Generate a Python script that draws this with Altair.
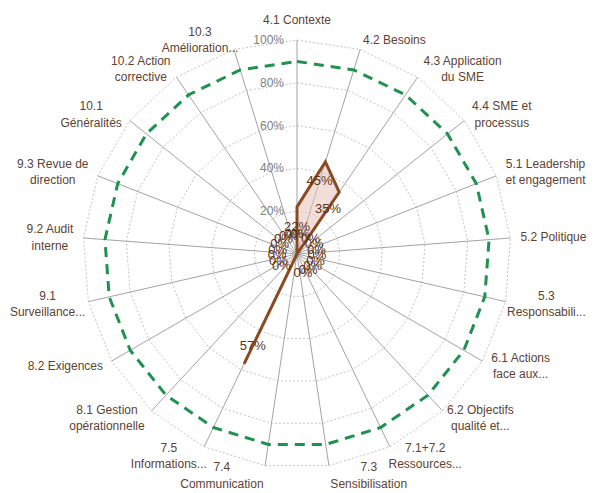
import numpy as np
import pandas as pd
import altair as alt

# ---------------- data ----------------
categories = [
    "4.1 Contexte", "4.2 Besoins", "4.3 Application\ndu SME", "4.4 SME et\nprocessus",
    "5.1 Leadership\net engagement", "5.2 Politique", "5.3\nResponsabili...",
    "6.1 Actions\nface aux...", "6.2 Objectifs\nqualité et...", "7.1+7.2\nRessources...",
    "7.3\nSensibilisation", "7.4\nCommunication", "7.5\nInformations...",
    "8.1 Gestion\nopérationnelle", "8.2 Exigences", "9.1\nSurveillance...",
    "9.2 Audit\ninterne", "9.3 Revue de\ndirection", "10.1\nGénéralités",
    "10.2 Action\ncorrective", "10.3\nAmélioration...",
]
values = [22, 45, 35, 0, 0, 0, 0, 0, 0, 0, 0, 0, 57, 0, 0, 0, 0, 0, 0, 0, 0]
target = [90] * 21
ring_levels = [20, 40, 60, 80, 100]
tick_labels = ["20%", "40%", "60%", "80%", "100%"]

# ---------------- geometry helpers ----------------
W, H = 596, 493
CX, CY = 297, 254
PX_PER_UNIT = 2.14  # pixels per percentage point
LINE_H = 16.5
n = len(categories)
ang = np.arange(n) * 2 * np.pi / n
S, C = np.sin(ang), np.cos(ang)

x_dom = [-CX / PX_PER_UNIT, (W - CX) / PX_PER_UNIT]
y_dom = [-(H - CY) / PX_PER_UNIT, CY / PX_PER_UNIT]

AW = {'.': 278, ' ': 278, '+': 584, 'a': 556, 'b': 556, 'c': 500, 'd': 556, 'e': 556,
      'é': 556, 'f': 278, 'g': 556, 'h': 556, 'i': 222, 'j': 222, 'k': 500, 'l': 222,
      'm': 833, 'n': 556, 'o': 556, 'p': 556, 'q': 556, 'r': 333, 's': 500, 't': 278,
      'u': 556, 'v': 500, 'w': 722, 'x': 500, 'y': 500, 'z': 500, 'A': 667, 'B': 667,
      'C': 722, 'E': 667, 'G': 778, 'I': 278, 'L': 556, 'M': 833, 'P': 667, 'R': 722,
      'S': 667}


def text_w(s, size=12):
    return sum(AW.get(ch, 556) for ch in s) * size / 1000


xs = alt.X("x:Q", axis=None, scale=alt.Scale(domain=x_dom, nice=False, zero=False))
ys = alt.Y("y:Q", axis=None, scale=alt.Scale(domain=y_dom, nice=False, zero=False))

# rings (dotted polygons)
ring_df = pd.DataFrame([
    {"lvl": L, "i": i, "x": L * S[i], "y": L * C[i]} for L in ring_levels for i in range(n)
])
rings = alt.Chart(ring_df).mark_line(
    interpolate="linear-closed", color="#c4c4c4", strokeWidth=1, strokeDash=[2, 2]
).encode(x=xs, y=ys, detail="lvl:N", order="i:Q")

# spokes
spoke_df = pd.DataFrame({"x": 0 * S, "y": 0 * C, "x2": 100 * S, "y2": 100 * C})
spokes = alt.Chart(spoke_df).mark_rule(color="#a3a3a3", strokeWidth=1).encode(
    x=xs, y=ys, x2="x2:Q", y2="y2:Q")

# target dashed line
tgt_df = pd.DataFrame({"i": range(n), "x": np.array(target) * S, "y": np.array(target) * C})
tgt = alt.Chart(tgt_df).mark_line(
    interpolate="linear-closed", color="#1f9150", strokeWidth=3, strokeDash=[10, 7]
).encode(x=xs, y=ys, order="i:Q")

# series
v = np.array(values, dtype=float)
ser_df = pd.DataFrame({"i": range(n), "x": v * S, "y": v * C})
series = alt.Chart(ser_df).mark_line(
    interpolate="linear-closed", stroke="#8a4a22", strokeWidth=3,
    fill="#e6beb4", fillOpacity=0.5, strokeJoin="miter"
).encode(x=xs, y=ys, order="i:Q")

# value labels (placed radially inward from the point)
lr = v - 9.3
val_df = pd.DataFrame({"x": lr * S, "y": lr * C, "t": [f"{int(a)}%" for a in values]})
val_labels = alt.Chart(val_df).mark_text(
    font="Liberation Sans", fontSize=13, color="#5e3216", align="center", baseline="middle"
).encode(x=xs, y=ys, text="t:N")

# tick labels
tick_df = pd.DataFrame({"x": [0] * len(ring_levels), "y": ring_levels, "t": tick_labels})
ticks = alt.Chart(tick_df).mark_text(
    font="Liberation Sans", fontSize=12, color="#808080", align="right", baseline="middle", dx=-13
).encode(x=xs, y=ys, text="t:N")

# category labels
anchor_r = 224 / PX_PER_UNIT
rows = []
for i, lab in enumerate(categories):
    lines = lab.split("\n")
    wmax = max(text_w(l) for l in lines)
    if "..." in lab:
        wmax = min(wmax, 62)
    ax, ay = anchor_r * S[i], anchor_r * C[i]
    if abs(S[i]) < 0.01:
        sign, voff = 0, 10 / PX_PER_UNIT * np.sign(C[i])
    else:
        sign, voff = np.sign(S[i]), 0
    # first line sits at the anchor in Vega; lift the block so it is centred
    lift = (len(lines) - 1) * LINE_H / 2 / PX_PER_UNIT
    rows.append({"x": ax + sign * wmax / 2 / PX_PER_UNIT, "y": ay + voff + lift, "t": lab})
cat_df = pd.DataFrame(rows)
cat_labels = alt.Chart(cat_df).mark_text(
    font="Liberation Sans", fontSize=12, color="#604232", align="center", baseline="middle",
    lineBreak="\n", lineHeight=LINE_H
).encode(x=xs, y=ys, text="t:N")

chart = alt.layer(rings, spokes, tgt, series, ticks, val_labels, cat_labels).properties(
    width=W, height=H, padding=0, autosize=alt.AutoSizeParams(type="none")
).configure_view(stroke=None)

chart.save("out.html", embed_options={"renderer": "svg", "actions": False})
